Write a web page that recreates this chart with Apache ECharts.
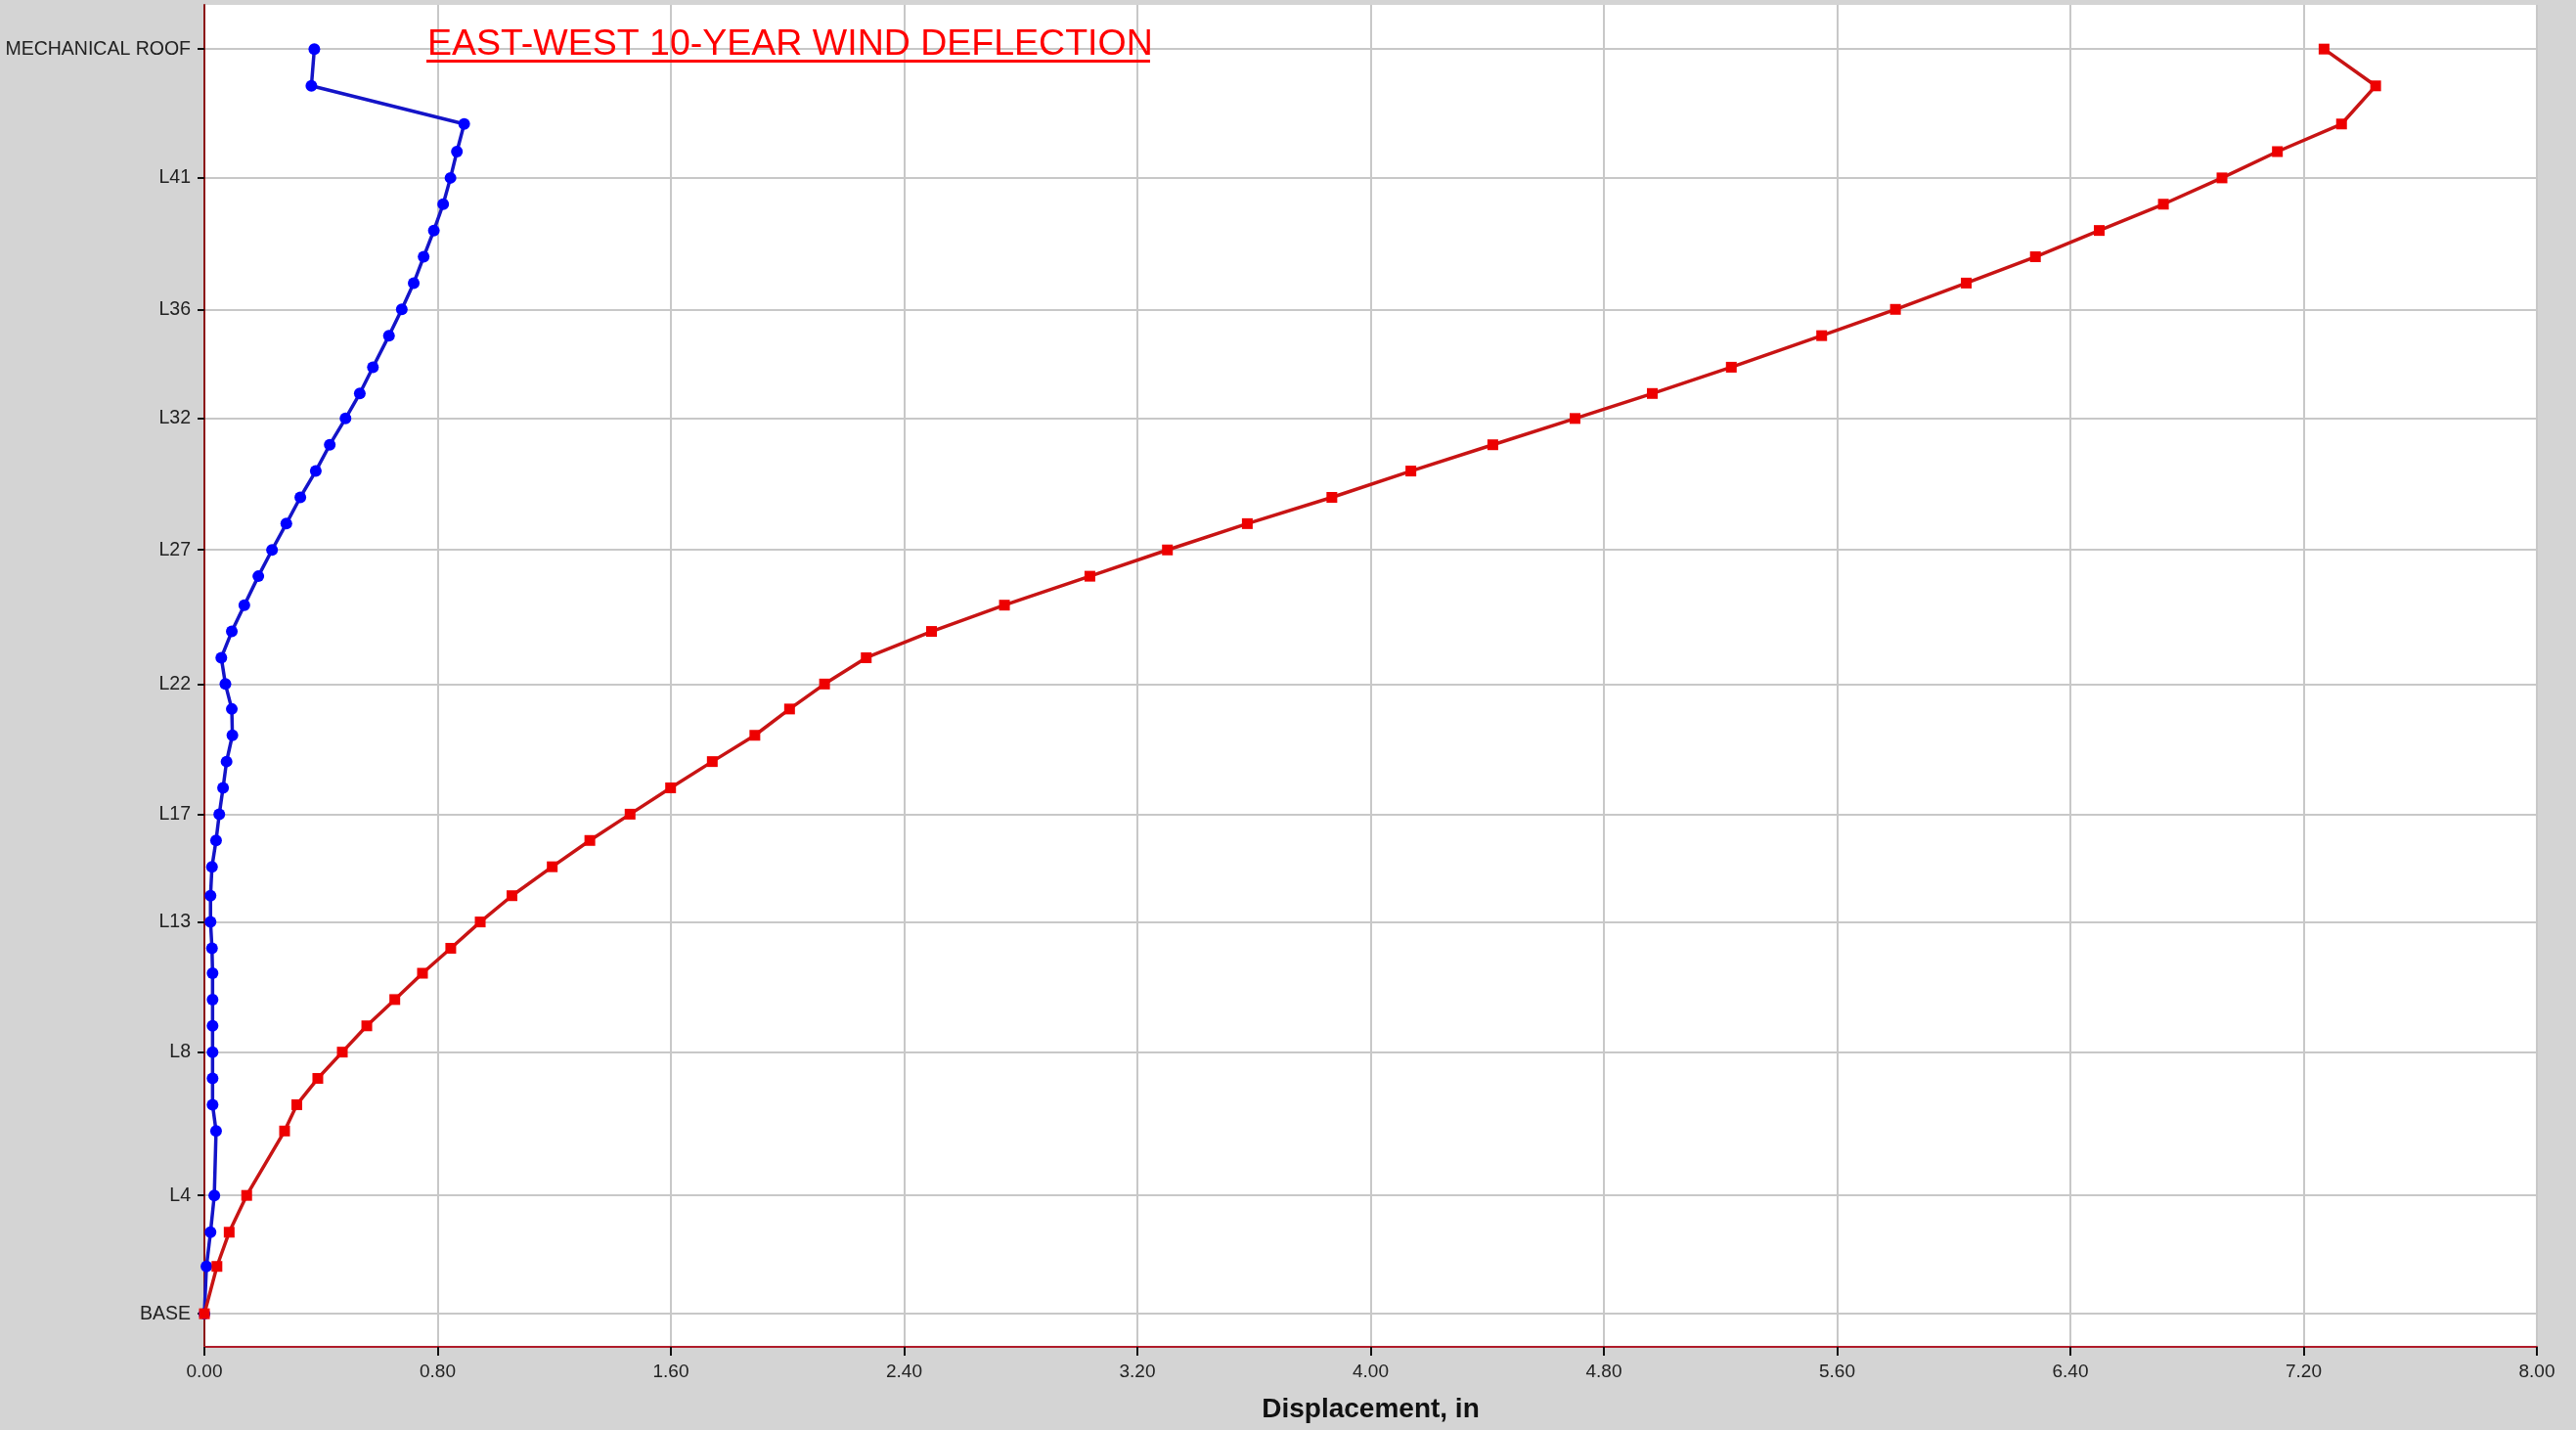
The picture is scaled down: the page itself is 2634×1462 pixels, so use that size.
<!DOCTYPE html>
<html>
<head>
<meta charset="utf-8">
<title>East-West 10-Year Wind Deflection</title>
<script src="https://cdn.jsdelivr.net/npm/echarts@6.0.0/dist/echarts.min.js"></script>
<style>
  html, body { margin: 0; padding: 0; background: #d4d4d4; }
  #deflectionChart { width: 2634px; height: 1462px; }
</style>
</head>
<body>
<div id="deflectionChart"></div>
<script>
// floor levels, bottom to top
const levelNames = [
  'BASE', 'L2', 'L3', 'L4', 'L5', 'L6', 'L7', 'L8', 'L9', 'L10',
  'L11', 'L12', 'L13', 'L14', 'L15', 'L16', 'L17', 'L18', 'L19', 'L20',
  'L21', 'L22', 'L23', 'L24', 'L25', 'L26', 'L27', 'L28', 'L29', 'L30',
  'L31', 'L32', 'L33', 'L34', 'L35', 'L36', 'L37', 'L38', 'L39', 'L40',
  'L41', 'L42', 'L43', 'ROOF', 'MECHANICAL ROOF'
]
// elevation of each level (ft above base)
const elevations = [
  0, 18, 31, 45, 69.5, 79.5, 89.5, 99.5, 109.5, 119.5,
  129.5, 139, 149, 159, 170, 180, 190, 200, 210, 220,
  230, 239.5, 249.5, 259.5, 269.5, 280.5, 290.5, 300.5, 310.5, 320.5,
  330.5, 340.5, 350, 360, 372, 382, 392, 402, 412, 422,
  432, 442, 452.5, 467, 481
]
// displacement, in
const blueDisp = [
  0, 0.007, 0.021, 0.034, 0.040, 0.028, 0.028, 0.028, 0.028, 0.028,
  0.028, 0.026, 0.021, 0.021, 0.026, 0.040, 0.051, 0.064, 0.076, 0.096,
  0.094, 0.072, 0.058, 0.094, 0.137, 0.185, 0.232, 0.281, 0.329, 0.382,
  0.430, 0.484, 0.533, 0.578, 0.633, 0.677, 0.718, 0.752, 0.787, 0.819,
  0.844, 0.866, 0.891, 0.367, 0.377
]
const redDisp = [
  0, 0.043, 0.085, 0.145, 0.275, 0.317, 0.389, 0.473, 0.557, 0.653,
  0.748, 0.845, 0.946, 1.055, 1.193, 1.322, 1.46, 1.599, 1.742, 1.888,
  2.007, 2.127, 2.27, 2.494, 2.744, 3.037, 3.303, 3.577, 3.867, 4.138,
  4.419, 4.701, 4.966, 5.237, 5.547, 5.80, 6.043, 6.28, 6.499, 6.719,
  6.92, 7.11, 7.33, 7.447, 7.27
]
// labelled levels on the vertical axis
const tickNames = ['BASE', 'L4', 'L8', 'L13', 'L17', 'L22', 'L27', 'L32', 'L36', 'L41', 'MECHANICAL ROOF']
const titleText = 'EAST-WEST 10-YEAR WIND DEFLECTION'

const tickElev = tickNames.map(n => elevations[levelNames.indexOf(n)])
const blueData = blueDisp.map((d, i) => [d, elevations[i]])
const redData = redDisp.map((d, i) => [d, elevations[i]])

const fontFamily = '"Liberation Sans", Arial, sans-serif'

const chart = echarts.init(document.getElementById('deflectionChart'))
const option = {
  animation: false,
  backgroundColor: '#d4d4d4',
  textStyle: { fontFamily: fontFamily },
  grid: {
    left: 209,
    right: 40,
    top: 5,
    bottom: 85,
    show: true,
    backgroundColor: '#ffffff',
    borderWidth: 0
  },
  xAxis: {
    type: 'value',
    min: 0,
    max: 8,
    interval: 0.8,
    name: 'Displacement, in',
    nameLocation: 'middle',
    nameGap: 50,
    nameTextStyle: { fontSize: 28, fontWeight: 'bold', color: '#111', fontFamily: fontFamily },
    // keep the axis at the bottom of the plot, not at elevation 0
    axisLine: { show: true, onZero: false, lineStyle: { color: '#b01c2a', width: 2 } },
    axisTick: { show: true, inside: false, length: 9, lineStyle: { color: '#111', width: 2 } },
    axisLabel: {
      fontSize: 19,
      color: '#222',
      margin: 16,
      fontFamily: fontFamily,
      formatter: v => v.toFixed(2)
    },
    splitLine: { show: true, lineStyle: { color: '#c8c8c8', width: 2 } }
  },
  yAxis: {
    type: 'value',
    min: -12.6,
    max: 497.8,
    axisLine: { show: true, onZero: false, lineStyle: { color: '#8b1010', width: 2 } },
    axisTick: { show: true, length: 7, customValues: tickElev, lineStyle: { color: '#111', width: 2 } },
    axisLabel: {
      fontSize: 19.5,
      color: '#222',
      margin: 14,
      fontFamily: fontFamily,
      customValues: tickElev,
      formatter: v => {
        const i = tickElev.indexOf(v)
        return i >= 0 ? tickNames[i] : ''
      }
    },
    splitLine: { show: true, lineStyle: { color: '#c8c8c8', width: 2 } }
  },
  // underlined red title inside the plot
  graphic: [
    {
      type: 'text',
      x: 437,
      y: 46,
      style: {
        text: titleText,
        fill: '#ff0000',
        font: '37.5px ' + fontFamily,
        align: 'left',
        verticalAlign: 'middle'
      },
      z: 10
    },
    {
      type: 'rect',
      shape: { x: 436, y: 61, width: 740, height: 3 },
      style: { fill: '#ff0000' },
      z: 10
    }
  ],
  series: [
    {
      name: 'Blue',
      type: 'line',
      data: blueData,
      symbol: 'circle',
      symbolSize: 12,
      showAllSymbol: true,
      lineStyle: { color: '#1414c8', width: 3.5 },
      itemStyle: { color: '#0000ff' },
      z: 3
    },
    {
      name: 'Red',
      type: 'line',
      data: redData,
      symbol: 'rect',
      symbolSize: 11,
      showAllSymbol: true,
      lineStyle: { color: '#c81414', width: 3.5 },
      itemStyle: { color: '#ee0000' },
      z: 4
    }
  ]
}
chart.setOption(option)
</script>
</body>
</html>
